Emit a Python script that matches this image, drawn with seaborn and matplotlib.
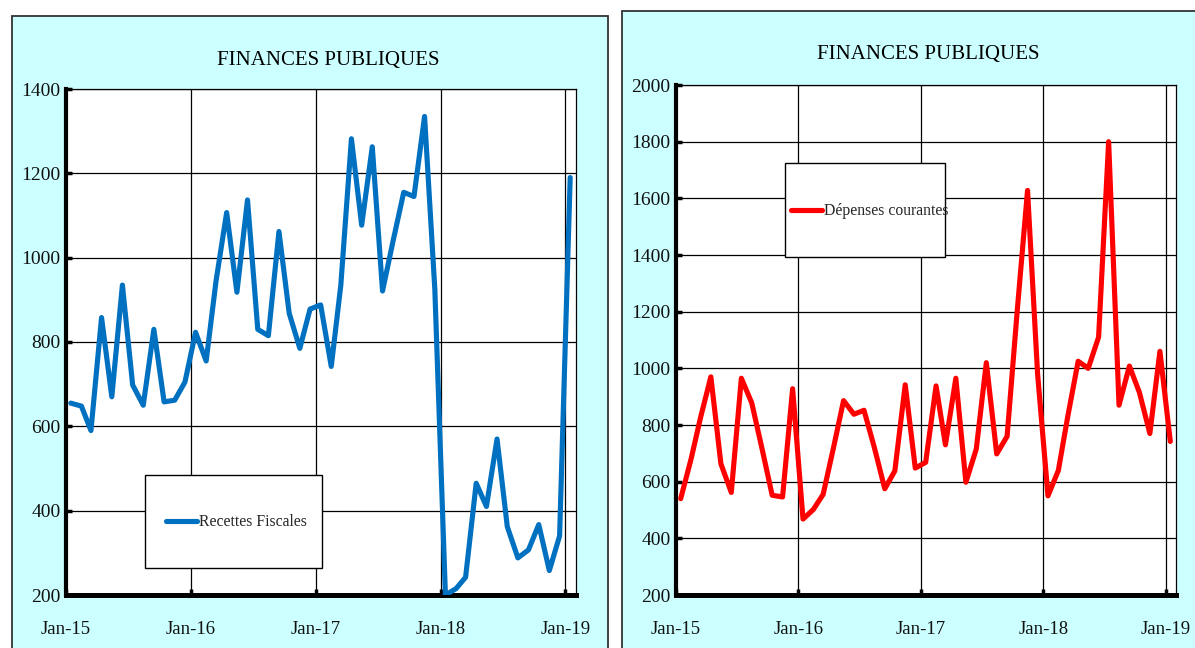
import numpy as np
import pandas as pd
import matplotlib
matplotlib.use('Agg')
import matplotlib.pyplot as plt
import matplotlib.dates as mdates
from matplotlib.patches import Rectangle
import seaborn as sns

# ---- data (monthly, Jan-15 .. Jan-19) ----
months = pd.date_range('2015-01-01', periods=49, freq='MS') + pd.Timedelta(days=14)

recettes_fiscales = [655, 648, 590, 858, 670, 935, 698, 650, 830, 658, 662, 705,
                     823, 755, 945, 1107, 918, 1137, 830, 815, 1062, 868, 785, 878,
                     888, 742, 935, 1282, 1077, 1263, 921, 1040, 1155, 1145, 1335, 925,
                     200, 215, 242, 465, 410, 570, 362, 288, 307, 367, 258, 340,
                     1190]
depenses_courantes = [540, 680, 825, 970, 663, 562, 965, 878, 715, 552, 546, 928,
                      468, 502, 555, 720, 886, 838, 852, 720, 575, 638, 942, 648,
                      668, 938, 730, 965, 598, 715, 1020, 698, 760, 1200, 1628, 980,
                      550, 640, 830, 1025, 1000, 1110, 1800, 870, 1008, 914, 770, 1060,
                      742]

title_text = 'FINANCES PUBLIQUES'
label_left = 'Recettes Fiscales'
label_right = 'Dépenses courantes'
yticks_left = list(range(200, 1401, 200))
yticks_right = list(range(200, 2001, 200))

# ---- style ----
sns.set_style('white')
plt.rcParams['font.family'] = ['Liberation Serif', 'DejaVu Serif']

W, H = 1195, 648
fig = plt.figure(figsize=(W / 100, H / 100), dpi=100)
fig.patch.set_facecolor('white')


def fx(px):
    return px / W


def fy(py):
    return 1 - py / H


# background panels
for (px0, px1, py0) in [(12, 608, 16), (622, 1230, 11)]:
    fig.add_artist(Rectangle((fx(px0), fy(670)), fx(px1) - fx(px0), fy(py0) - fy(670),
                             transform=fig.transFigure, facecolor='#CCFFFF',
                             edgecolor='#333333', lw=1.3, zorder=-10))


def make_panel(rect_px, values, color, label, yticks, title_x, title_pad,
               box, handle_anchor):
    x0, x1, y0, y1 = rect_px
    ax = fig.add_axes([fx(x0), fy(y1), (x1 - x0) / W, (y1 - y0) / H])
    ax.set_zorder(1)
    ax.set_facecolor('white')
    df = pd.DataFrame({'date': months, 'value': values})
    sns.lineplot(data=df, x='date', y='value', ax=ax, color=color, lw=3.7,
                 label=label, legend=False, zorder=3)
    ax.set_xlim(pd.Timestamp('2015-01-01'), pd.Timestamp('2019-02-01'))
    ax.set_ylim(yticks[0], yticks[-1])
    ax.set_yticks(yticks)
    ax.xaxis.set_major_locator(mdates.YearLocator())
    ax.xaxis.set_major_formatter(mdates.DateFormatter('%b-%y'))
    ax.set_xlabel('')
    ax.set_ylabel('')
    ax.set_axisbelow(True)
    ax.grid(True, color='black', lw=0.9)
    for s in ['top', 'right']:
        ax.spines[s].set_linewidth(0.9)
        ax.spines[s].set_color('black')
        ax.spines[s].set_visible(True)
    ax.spines['left'].set_linewidth(3.0)
    ax.spines['left'].set_color('black')
    ax.spines['bottom'].set_linewidth(3.6)
    ax.spines['bottom'].set_color('black')
    ax.tick_params(axis='y', direction='in', length=4, width=2.5, labelsize=14,
                   pad=4, colors='black', left=True)
    ax.tick_params(axis='x', direction='in', length=4, width=2.5, labelsize=13.5,
                   pad=19, colors='black', bottom=True)
    for t in ax.get_xticklabels() + ax.get_yticklabels():
        t.set_color('#111111')
    ax.set_title(title_text, fontsize=15, pad=title_pad, x=title_x, color='black')
    # legend box
    bx0, bx1, by0, by1 = box
    ax.add_patch(Rectangle(((bx0 - x0) / (x1 - x0), (y1 - by1) / (y1 - y0)),
                           (bx1 - bx0) / (x1 - x0), (by1 - by0) / (y1 - y0),
                           transform=ax.transAxes, facecolor='white',
                           edgecolor='black', lw=1.0, zorder=4))
    hx, hy = handle_anchor
    leg = ax.legend(handles=ax.get_lines()[:1], labels=[label],
                    loc='center left',
                    bbox_to_anchor=((hx - x0) / (x1 - x0), (y1 - hy) / (y1 - y0)),
                    frameon=False, borderpad=0, borderaxespad=0,
                    handlelength=2.0, handletextpad=0.08, fontsize=11.3)
    leg.set_zorder(5)
    return ax


make_panel((66, 576, 89, 595), recettes_fiscales, '#0070C0', label_left,
           yticks_left, 0.515, 17, (145, 322, 475, 568), (166, 522))
make_panel((676, 1176, 85, 595), depenses_courantes, '#FF0000', label_right,
           yticks_right, 0.505, 19, (785, 945, 163, 257), (791, 211))

fig.savefig('out.png', dpi=100, facecolor='white')
